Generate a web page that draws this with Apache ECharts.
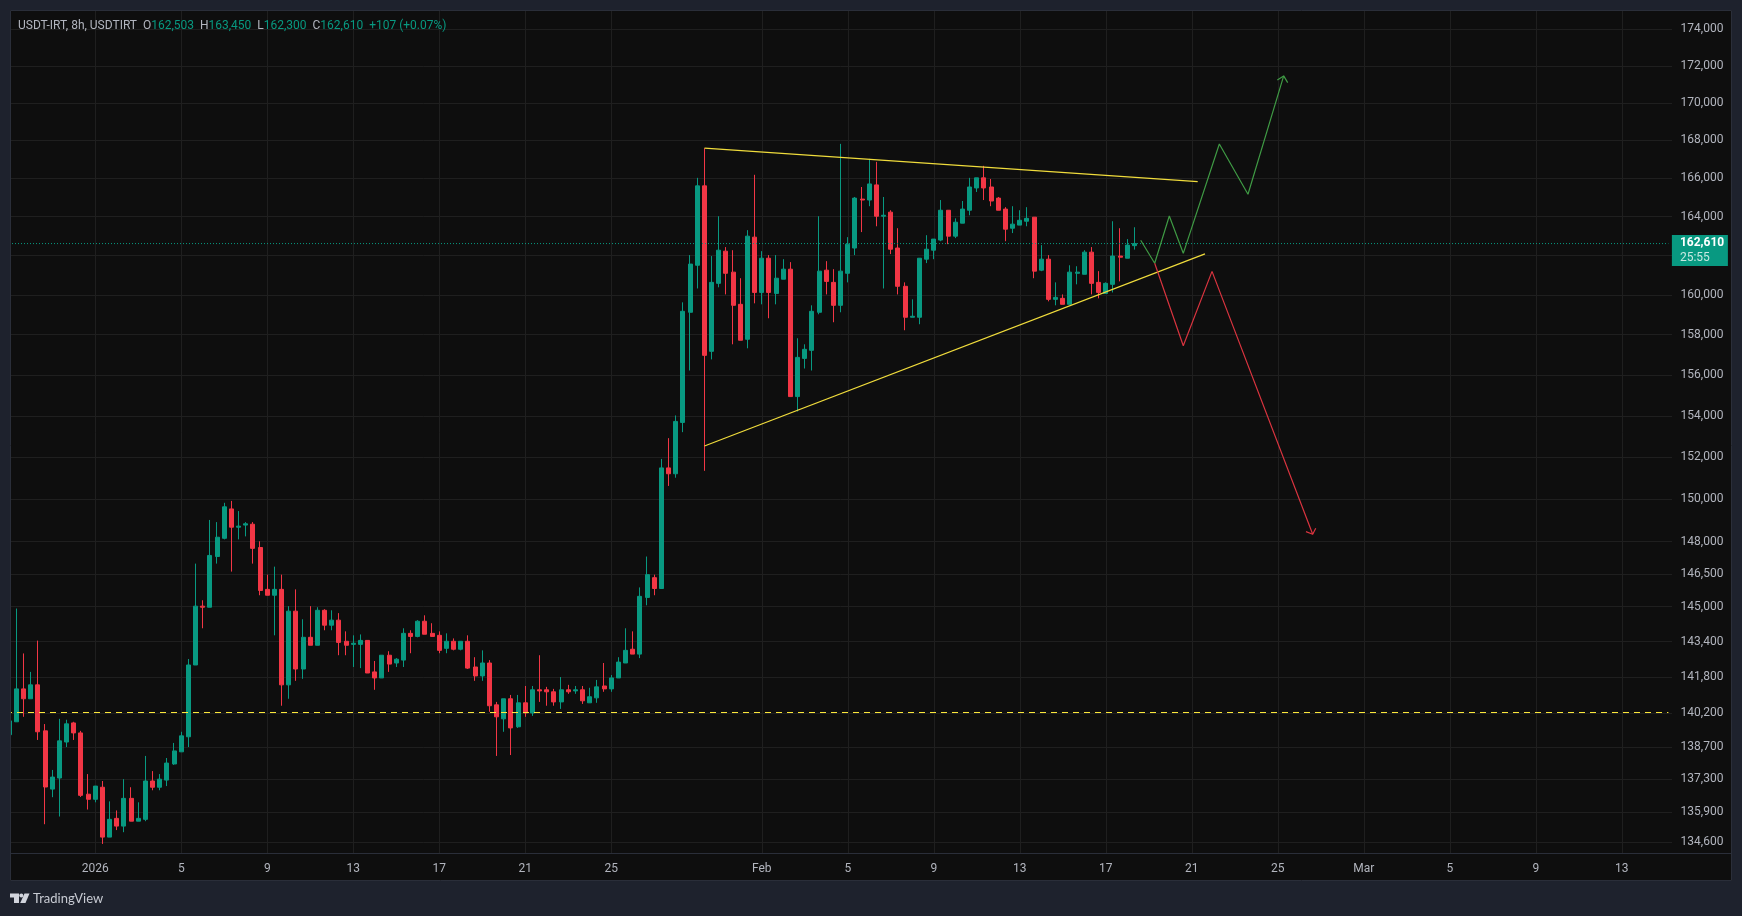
<!DOCTYPE html>
<html>
<head>
<meta charset="utf-8">
<title>USDT-IRT, 8h</title>
<style>
  html, body { margin: 0; padding: 0; background: #1e222d; }
  #chart { width: 1742px; height: 916px; }
</style>
<script src="https://cdn.jsdelivr.net/npm/echarts@6/dist/echarts.min.js"></script>
</head>
<body>
<div id="chart"></div>
<script>
// 8h candles, the first one is Dec 28 00:00 (12 bars before Jan 1)
const opens = [
  139250,139820,141280,140840,141460,139420,136880,137360,138930,139770,139330,136660,
  136440,136960,134820,135620,135290,136480,135500,135580,137230,136960,
  137270,137970,138500,139160,142350,145020,144970,147310,148160,149540,
  148680,148780,148820,147730,145790,145520,145790,141460,144790,142170,
  143600,143240,144830,144150,144380,143420,143280,143280,143460,142040,
  141770,142790,142440,142570,143780,143640,144330,143780,143690,143100,
  143420,143060,143420,142260,141860,142440,140570,139950,140840,139600,
  140660,140210,141240,141240,141150,140700,141240,141190,141240,140660,
  140880,141410,141280,141770,142440,143060,142840,145420,146330,145830,
  151490,151210,153680,159120,161500,165600,157170,160580,162220,161150,
  159520,157770,162940,160120,161860,160070,160790,161300,154940,156820,
  157220,159120,161250,160630,159470,161090,162380,164910,164860,165650,
  164020,164230,162380,160430,158870,158870,161810,162270,162790,164330,
  162990,163660,164330,165490,166020,165540,164960,164390,163400,163560,
  163760,163970,161250,161810,159770,159820,159520,161090,161040,162170,
  160630,160070,160530,161970,161860,162503
];
const closes = [
  139860,141280,140840,141460,139380,136970,137400,138980,139730,139330,136610,136440,
  137010,134820,135580,135290,136480,135500,135620,137230,136960,137310,
  138010,138540,139200,142350,145020,144970,147360,148210,149640,148680,
  148730,148840,147690,145740,145520,145790,141460,144790,142170,143600,
  143240,144830,144150,144380,143370,143240,143330,143460,141990,141770,
  142790,142390,142610,143780,143640,144330,143740,143640,143010,143420,
  143060,143420,142210,141860,142440,140530,140040,140840,139550,140660,
  140210,141240,141190,141150,140700,141240,141150,141240,140750,140930,
  141370,141280,141770,142480,143010,142840,145470,146470,145830,151490,
  151210,153730,159170,161560,165600,156970,160630,162270,161090,159470,
  157720,162990,160120,161860,160120,160840,161300,154940,156870,157270,
  159170,161200,160680,159470,161200,162580,164960,164860,165700,164020,
  164070,162320,160430,158870,158920,161860,162320,162840,164330,162990,
  163710,164390,165540,166020,165490,164810,164330,163350,163610,163810,
  163910,161200,161810,159770,159870,159520,161150,161150,162170,160580,
  160120,160580,161970,161910,162530,162610
];
const highs = [
  139860,144910,142870,142040,143450,139720,137710,139950,139910,139820,139420,137530,
  137010,137230,136350,135960,137310,136960,136310,138320,137660,137530,
  138230,138890,139380,142620,146980,145290,149020,148920,149830,149920,
  149440,148920,148920,148020,146470,146840,146470,145020,145790,144420,
  145020,144970,144880,144830,144700,143870,143690,143730,143460,142530,
  142790,142970,142660,144010,143920,144380,144600,144240,143870,143780,
  143550,143420,143690,142700,143010,142570,140700,140840,141010,141010,
  141410,141410,142790,141370,141280,141810,141460,141410,141410,141330,
  141680,142440,141900,142700,144010,143870,145880,147310,146470,151920,
  152920,154020,159620,162020,166020,167580,161970,164020,162430,162270,
  160840,163300,166180,162220,162020,162020,161810,161660,157820,157520,
  159470,164020,161710,161300,167810,162940,165020,165540,167020,166860,
  165020,164330,163400,160630,159770,161860,163040,162840,164860,164330,
  163910,164810,166020,166020,166650,165960,165020,164490,164540,164330,
  164490,163970,162530,162020,160630,160020,161500,161450,162270,162430,
  161200,160630,163760,163400,162840,163450
];
const lows = [
  139080,139820,140040,140840,139020,135370,136530,135700,138710,139020,136540,136000,
  136310,134530,134820,135120,135030,135500,135500,135500,136830,136830,
  137010,137930,138500,138710,142350,144010,144970,146980,148110,146610,
  148110,148250,146980,145520,145520,143690,140530,140840,141640,141730,
  143240,143240,143920,143920,142790,142790,142260,142210,141990,141240,
  141770,142040,142260,142260,142880,143600,143740,143640,142880,142880,
  143010,143010,142170,141640,141640,140260,138320,139380,138360,139550,
  140040,140080,140700,140530,140530,140390,141060,141060,140610,140660,
  140660,141150,141150,141770,142440,142840,142660,145060,145520,145830,
  150630,151020,153210,156220,160320,151350,156770,160380,160020,157520,
  157720,157320,159570,159520,158820,159520,160790,154940,154210,156320,
  156220,159020,160020,158620,159120,160630,162020,163200,164540,163500,
  160320,162070,160020,158220,158870,158520,161610,161810,162730,162580,
  162890,163660,164070,165280,164860,164540,164330,162730,163150,163560,
  163500,160840,161200,159670,159470,159520,159520,160530,161040,160020,
  159820,160070,160120,160680,161860,162300
];

// axis ticks; bars are counted from Jan 1 00:00
const timeTickBars = [0,12,24,36,48,60,72,93,105,117,129,141,153,165,177,189,201,213];
const timeTickLabels = ['2026','5','9','13','17','21','25','Feb','5','9','13','17','21','25','Mar','5','9','13'];
const priceTicks = [134600,135900,137300,138700,140200,141800,143400,145000,146500,148000,150000,
  152000,154000,156000,158000,160000,162000,164000,166000,168000,170000,172000,174000];

// hand drawn lines, [bar, price]
const trendTop = [[85, 167580], [153.82, 165820]];
const trendBottom = [[85, 152540], [154.84, 162080]];
const greenPath = [[145.87,162780],[147.82,161600],[149.86,164030],[151.81,162110],[156.84,167800],[160.84,165160],[165.82,171450]];
const greenHead = [[164.93,171230],[165.82,171450],[166.38,171085]];
const redPath = [[147.82,161600],[151.81,157450],[155.82,161190],[169.87,148350]];
const redHead = [[168.93,148470],[169.87,148350],[170.29,148630]];
const supportLevel = 140230;
const lastPrice = 162610;
const countdown = '25:55';
const headerValues = { o: '162,503', h: '163,450', l: '162,300', c: '162,610', change: '+107 (+0.07%)' };

const UP = '#089981';
const DOWN = '#f23645';
const PANE = '#0e0e0e';
const FRAME = '#1e222d';
const EDGE = '#2a2e39';
const GRID = '#1f1f1f';
const TEXT = '#b2b5be';
const FONT = 'Roboto, "Noto Sans", sans-serif';

// one bar is 7.1667px wide, the grid starts half a bar left of the first candle
const firstBar = -12;
const barCount = 233;
const gridLeft = 5.72;
const gridWidth = 1669.84;
// start of the level lines, lands on a whole pixel so the dashes stay sharp
const levelStart = -12.46;
const levelEnd = 219.5;

const categories = [];
for (let i = 0; i < barCount; i++) {
  const d = new Date(Date.UTC(2026, 0, 1, 8 * (i + firstBar)));
  categories.push(d.toISOString().slice(0, 16));
}

const candles = opens.map((o, i) => [o, closes[i], lows[i], highs[i]]);

function drawnLine(data, color, extra) {
  return Object.assign({
    type: 'line',
    xAxisIndex: 1,
    data: data,
    symbol: 'none',
    silent: true,
    z: 4,
    lineStyle: { color: color, width: 1.2 }
  }, extra);
}

const chart = echarts.init(document.getElementById('chart'));

chart.setOption({
  animation: false,
  backgroundColor: PANE,
  textStyle: { fontFamily: FONT },
  title: {
    left: 18,
    top: 20,
    padding: 0,
    text: '{k|USDT-IRT, 8h, USDTIRT  O}{v|' + headerValues.o + '}{k|  H}{v|' + headerValues.h +
      '}{k|  L}{v|' + headerValues.l + '}{k|  C}{v|' + headerValues.c + '  ' + headerValues.change + '}',
    textStyle: {
      fontWeight: 'normal',
      rich: {
        k: { color: TEXT, fontSize: 12, fontWeight: 'normal', fontFamily: FONT },
        v: { color: UP, fontSize: 12, fontWeight: 'normal', fontFamily: FONT }
      }
    }
  },
  grid: { left: gridLeft, top: 11, width: gridWidth, height: 842.3 },
  xAxis: [
    {
      type: 'category',
      data: categories,
      show: false
    },
    {
      type: 'value',
      position: 'bottom',
      min: firstBar - 0.5,
      max: firstBar + barCount - 0.5,
      axisLine: { show: false },
      axisTick: { show: false, customValues: timeTickBars },
      splitLine: { show: true, lineStyle: { color: GRID, width: 1 } },
      axisLabel: {
        customValues: timeTickBars,
        color: TEXT,
        fontSize: 12,
        margin: 10,
        formatter: function (value) {
          return timeTickLabels[timeTickBars.indexOf(value)];
        }
      }
    }
  ],
  yAxis: {
    type: 'log',
    position: 'right',
    min: 134133,
    max: 175000,
    axisLine: { show: false },
    axisTick: { show: false, customValues: priceTicks },
    splitLine: { show: true, lineStyle: { color: GRID, width: 1 } },
    axisLabel: {
      customValues: priceTicks,
      color: TEXT,
      fontSize: 12,
      margin: 5,
      formatter: function (value) {
        return value.toLocaleString('en-US');
      }
    }
  },
  series: [
    {
      type: 'candlestick',
      data: candles,
      // with the 1px border and pixel snapping this comes out 5px wide
      barWidth: 4.5,
      silent: true,
      z: 3,
      itemStyle: {
        color: UP,
        color0: DOWN,
        borderColor: UP,
        borderColor0: DOWN,
        borderWidth: 1
      }
    },
    drawnLine([[levelStart, supportLevel], [levelEnd, supportLevel]], '#ffeb3b', {
      lineStyle: { color: '#ffeb3b', width: 1, type: [6, 5] }
    }),
    drawnLine([[levelStart, lastPrice], [levelEnd, lastPrice]], UP, {
      lineStyle: { color: UP, width: 1, type: [1, 2] },
      endLabel: {
        show: true,
        distance: 0,
        offset: [3.5, 7],
        width: 56,
        height: 31,
        backgroundColor: UP,
        align: 'left',
        formatter: function () {
          return '{p|' + lastPrice.toLocaleString('en-US') + '}\n{t|' + countdown + '}';
        },
        rich: {
          p: { color: '#ffffff', fontSize: 12, fontWeight: 'bold', fontFamily: FONT, padding: [0, 0, 0, 8], lineHeight: 15 },
          t: { color: '#c8e8e2', fontSize: 12, fontFamily: FONT, padding: [0, 0, 0, 8], lineHeight: 15 }
        }
      }
    }),
    drawnLine(trendTop, '#f0dc3c'),
    drawnLine(trendBottom, '#f0dc3c'),
    drawnLine(greenPath, '#3f9a44'),
    drawnLine(greenHead, '#3f9a44'),
    drawnLine(redPath, '#d9343f'),
    drawnLine(redHead, '#d9343f')
  ],
  graphic: [
    // frame around the pane, the left strip also cuts the first candle
    { type: 'rect', z: 10, shape: { x: 0, y: 0, width: 10, height: 916 }, style: { fill: FRAME } },
    { type: 'rect', z: 10, shape: { x: 0, y: 0, width: 1742, height: 10 }, style: { fill: FRAME } },
    { type: 'rect', z: 10, shape: { x: 1732, y: 0, width: 10, height: 916 }, style: { fill: FRAME } },
    { type: 'rect', z: 10, shape: { x: 0, y: 881, width: 1742, height: 35 }, style: { fill: FRAME } },
    { type: 'rect', z: 11, shape: { x: 10.5, y: 10.5, width: 1721, height: 870 }, style: { fill: 'none', stroke: EDGE, lineWidth: 1 } },
    // gridlines stop where the price axis starts
    { type: 'rect', z: 1, shape: { x: 1672, y: 11, width: 5, height: 842 }, style: { fill: PANE } },
    { type: 'line', z: 11, shape: { x1: 11, y1: 853.5, x2: 1731, y2: 853.5 }, style: { stroke: EDGE, lineWidth: 1 } },
    // TradingView logo
    { type: 'polygon', z: 12, shape: { points: [[10,893.5],[19,893.5],[19,903],[14,903],[14,897.5],[10,897.5]] }, style: { fill: '#d1d4dc' } },
    { type: 'circle', z: 12, shape: { cx: 21.3, cy: 895.5, r: 2 }, style: { fill: '#d1d4dc' } },
    { type: 'polygon', z: 12, shape: { points: [[24.5,893.5],[29.5,893.5],[25.5,903],[20.2,903]] }, style: { fill: '#d1d4dc' } },
    { type: 'text', z: 12, x: 33, y: 899, style: { text: 'TradingView', fill: '#c8cbd3', font: '13px Lato, sans-serif', textVerticalAlign: 'middle' } }
  ]
});
</script>
</body>
</html>
